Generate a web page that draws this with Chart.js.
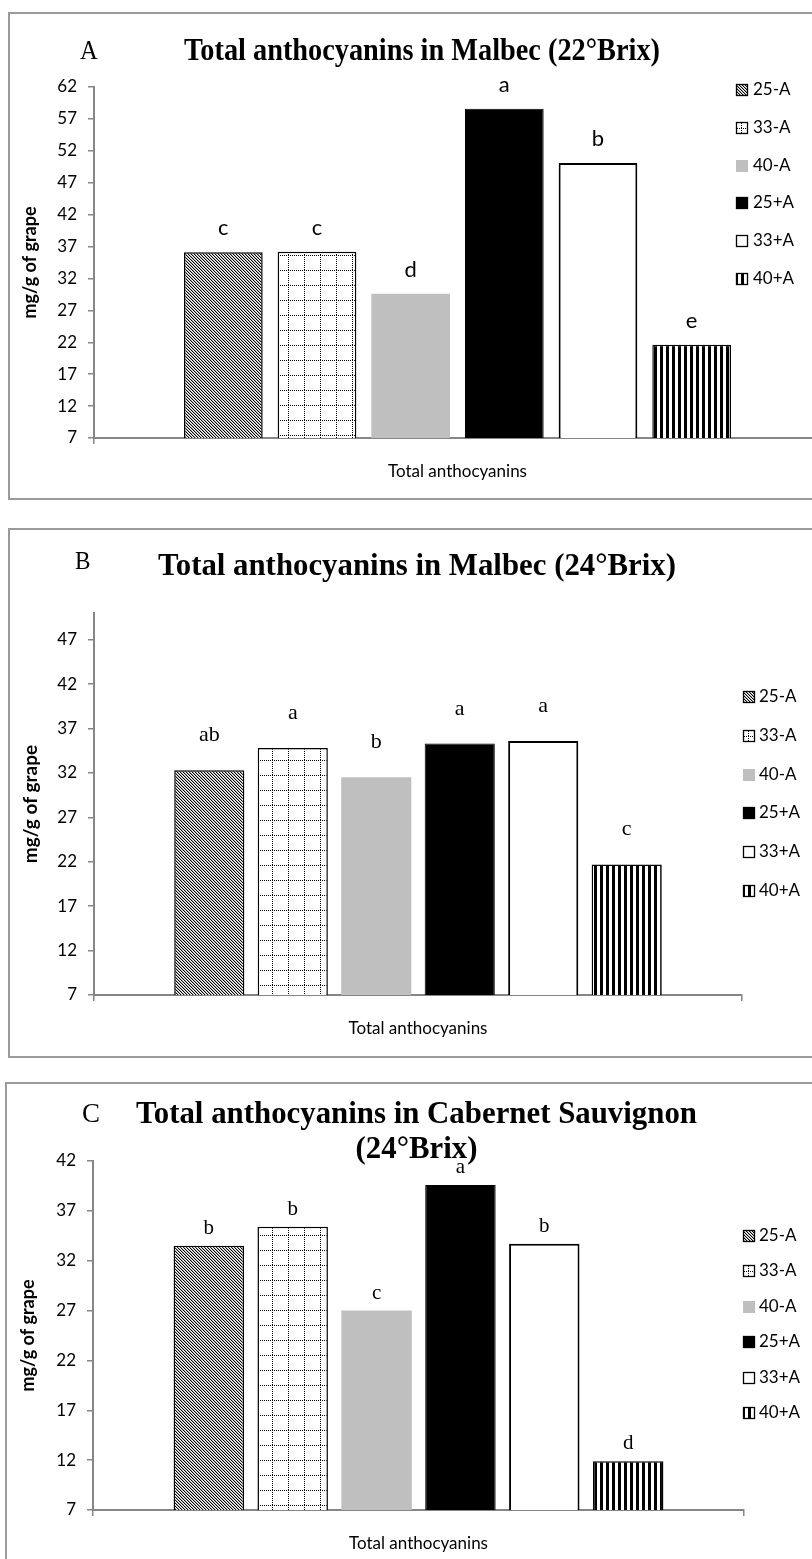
<!DOCTYPE html>
<html><head><meta charset="utf-8">
<script src="https://cdn.jsdelivr.net/npm/chart.js@4.4.1/dist/chart.umd.min.js"></script>
<style>
html,body{margin:0;padding:0;background:#fff;}
body{width:812px;height:1559px;overflow:hidden;position:relative;}
.box{position:absolute;border:2px solid #9a9a9a;box-sizing:border-box;}
canvas{position:absolute;left:0;}
</style></head><body>
<div class="box" style="left:8px;top:12px;width:900px;height:488px"></div>
<div class="box" style="left:8px;top:528px;width:900px;height:530px"></div>
<div class="box" style="left:5px;top:1082px;width:900px;height:600px"></div>
<canvas id="cA" width="830" height="500" style="top:0px"></canvas>
<canvas id="cB" width="830" height="540" style="top:520px"></canvas>
<canvas id="cC" width="830" height="489" style="top:1070px"></canvas>
<script>
// ---- data ----
const categories = ['Total anthocyanins'];
const seriesNames = ['25-A', '33-A', '40-A', '25+A', '33+A', '40+A'];
const malbec22Values = [36.1, 36.2, 29.6, 58.6, 50.1, 21.6];
const malbec24Values = [32.3, 34.8, 31.5, 35.3, 35.6, 21.7];
const cabernet24Values = [33.5, 35.4, 27.0, 39.6, 33.7, 11.9];
const malbec22Letters = ['c', 'c', 'd', 'a', 'b', 'e'];
const malbec24Letters = ['ab', 'a', 'b', 'a', 'a', 'c'];
const cabernet24Letters = ['b', 'b', 'c', 'a', 'b', 'd'];
const malbec22Ticks = [7, 12, 17, 22, 27, 32, 37, 42, 47, 52, 57, 62];
const malbec24Ticks = [7, 12, 17, 22, 27, 32, 37, 42, 47];
const cabernet24Ticks = [7, 12, 17, 22, 27, 32, 37, 42];
const yAxisTitle = 'mg/g of grape';
const titleA = ['Total anthocyanins in Malbec (22°Brix)'];
const titleB = ['Total anthocyanins in Malbec (24°Brix)'];
const titleC = ['Total anthocyanins in Cabernet Sauvignon', '(24°Brix)'];

// ---- styles ----
const axisGray = '#868686';
function makeTile(w, h, fn) {
  const c = document.createElement('canvas'); c.width = w; c.height = h;
  const x = c.getContext('2d'); const img = x.createImageData(w, h);
  for (let j = 0; j < h; j++) for (let i = 0; i < w; i++) {
    const v = fn(i, j); const k = (j * w + i) * 4;
    img.data[k] = img.data[k + 1] = img.data[k + 2] = v; img.data[k + 3] = 255;
  }
  x.putImageData(img, 0, 0); return c;
}
const diagTile = makeTile(3, 3, (i, j) => { const m = ((i - j) % 3 + 3) % 3; return m === 0 ? 0 : (m === 1 ? 175 : 255); });
const gridTile = makeTile(16, 15, (i, j) => ((j === 0 && i % 2 === 0) || (i === 0 && j % 2 === 0)) ? 0 : 255);
const stripeTile = makeTile(6, 1, (i) => i < 3 ? 0 : 255);
function buildFills(ctx) {
  return [ctx.createPattern(diagTile, 'repeat'), ctx.createPattern(gridTile, 'repeat'), '#bfbfbf', '#000000', '#ffffff', ctx.createPattern(stripeTile, 'repeat')];
}
const borderColors = ['#000', '#000', '#bfbfbf', '#000', '#000', '#000'];
const borderWidths = [1.5, 1.5, 0, 1, 2, 1.5];

const decor = {
  id: 'decor',
  afterDraw(chart, args, o) {
    const ctx = chart.ctx;
    ctx.save();
    ctx.fillStyle = '#000';
    ctx.textBaseline = 'alphabetic';
    ctx.textAlign = 'left';
    ctx.font = o.panelFont;
    ctx.save(); ctx.translate(o.panelX, o.panelY); ctx.scale(o.panelScale, 1); ctx.fillText(o.panel, 0, 0); ctx.restore();
    ctx.font = o.titleFont;
    ctx.textAlign = 'center';
    const sx = o.titleWidth / ctx.measureText(o.title[0]).width;
    for (let i = 0; i < o.title.length; i++) {
      ctx.save(); ctx.translate(o.titleX, o.titleY[i]); ctx.scale(sx, 1); ctx.fillText(o.title[i], 0, 0); ctx.restore();
    }
    ctx.font = o.sigFont;
    chart.data.datasets.forEach((ds, i) => {
      const el = chart.getDatasetMeta(i).data[0];
      ctx.fillText(o.sig[i], el.x, el.y - o.sigGap);
    });
    ctx.textAlign = 'left'; ctx.textBaseline = 'middle'; ctx.font = o.legendFont;
    chart.data.datasets.forEach((ds, i) => {
      const y = Math.round(o.legY + i * o.legStep);
      ctx.save();
      ctx.translate(o.legX + 5, y);
      ctx.fillStyle = ds.backgroundColor;
      ctx.fillRect(-5, -6, 12, 12);
      if (ds.borderWidth > 0) { ctx.strokeStyle = '#000'; ctx.lineWidth = 1.3; ctx.strokeRect(-4.5, -5.5, 11, 11); }
      ctx.restore();
      ctx.fillStyle = '#000';
      ctx.fillText(ds.label, o.legTextX, y);
    });
    ctx.restore();
  }
};

function makeChart(id, values, ticks, max, cfg) {
  const canvas = document.getElementById(id);
  const fills = buildFills(canvas.getContext('2d'));
  return new Chart(canvas, {
    type: 'bar',
    data: {
      labels: categories,
      datasets: seriesNames.map((name, i) => ({
        label: name,
        data: [values[i]],
        backgroundColor: fills[i],
        borderColor: borderColors[i],
        borderWidth: borderWidths[i],
        categoryPercentage: 0.773,
        barPercentage: 0.84
      }))
    },
    options: {
      responsive: false, animation: false, devicePixelRatio: 1,
      layout: { padding: { top: cfg.top, right: cfg.right, bottom: 0, left: 0 } },
      plugins: { legend: { display: false }, title: { display: false }, tooltip: { enabled: false }, decor: cfg.decor },
      scales: {
        x: {
          grid: { display: true, drawOnChartArea: false, drawTicks: true, tickLength: 6, color: axisGray, lineWidth: 1.5, offset: true },
          border: { display: true, color: axisGray, width: 2 },
          ticks: { color: '#000', font: { family: 'Lato', size: 17 }, padding: 17 },
          afterFit: s => { s.height = cfg.xH; s.paddingLeft = 0; s.paddingRight = 0; }
        },
        y: {
          min: 7, max: max,
          afterBuildTicks: s => { s.ticks = ticks.map(v => ({ value: v })); },
          grid: { drawOnChartArea: false, drawTicks: true, tickLength: 6, color: axisGray, lineWidth: 1.5 },
          border: { display: true, color: axisGray, width: 2 },
          ticks: { color: '#000', font: { family: 'Lato', size: 17 }, padding: 11 },
          title: { display: true, text: yAxisTitle, color: '#000', font: { family: 'Lato', size: cfg.yTitleSize, weight: 'bold' }, padding: { top: cfg.yTitlePad, bottom: 0 } },
          afterFit: s => { s.width = cfg.yW; s.paddingTop = 0; s.paddingBottom = 0; }
        }
      }
    },
    plugins: [decor]
  });
}

makeChart('cA', malbec22Values, malbec22Ticks, 62, {
  top: 87, right: 9, xH: 62, yW: 94, yTitleSize: 18, yTitlePad: 19,
  decor: {
    panel: 'A', panelFont: '28px "Liberation Serif"', panelX: 80, panelY: 59, panelScale: 0.88,
    title: titleA, titleFont: 'bold 32px "Liberation Serif"', titleX: 422, titleY: [60], titleWidth: 476,
    sig: malbec22Letters, sigFont: '22px Lato', sigGap: 17,
    legendFont: '17px Lato', legX: 736, legTextX: 753, legY: 90, legStep: 37.8
  }
});
makeChart('cB', malbec24Values, malbec24Ticks, 50, {
  top: 93, right: 88, xH: 65, yW: 94, yTitleSize: 19, yTitlePad: 19.6,
  decor: {
    panel: 'B', panelFont: '25px "Liberation Serif"', panelX: 75, panelY: 49, panelScale: 0.93,
    title: titleB, titleFont: 'bold 32px "Liberation Serif"', titleX: 417, titleY: [55], titleWidth: 518,
    sig: malbec24Letters, sigFont: '22px "Liberation Serif"', sigGap: 29,
    legendFont: '17px Lato', legX: 743, legTextX: 759, legY: 177, legStep: 38.8
  }
});
makeChart('cC', cabernet24Values, cabernet24Ticks, 42, {
  top: 91, right: 86, xH: 49, yW: 93, yTitleSize: 18, yTitlePad: 17,
  decor: {
    panel: 'C', panelFont: '27px "Liberation Serif"', panelX: 82, panelY: 52, panelScale: 1,
    title: titleC, titleFont: 'bold 32px "Liberation Serif"', titleX: 416.5, titleY: [53, 88], titleWidth: 561,
    sig: cabernet24Letters, sigFont: '21px "Liberation Serif"', sigGap: 12,
    legendFont: '17px Lato', legX: 743, legTextX: 759, legY: 166, legStep: 35.4
  }
});
</script></body></html>
